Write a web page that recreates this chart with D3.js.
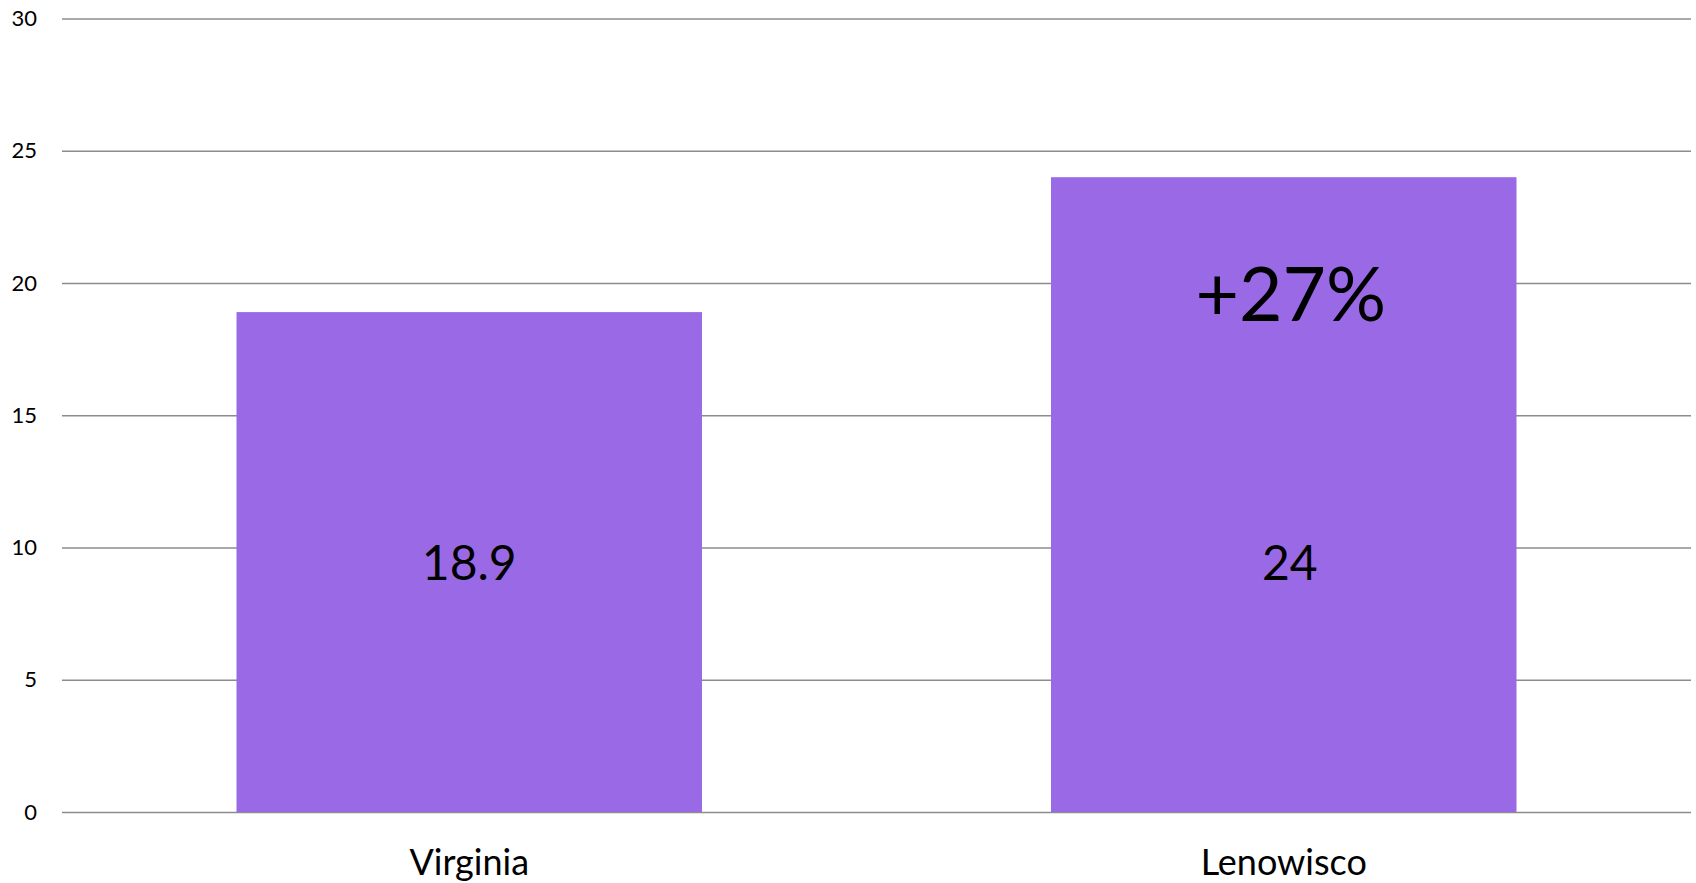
<!DOCTYPE html>
<html>
<head>
<meta charset="utf-8">
<script src="https://cdn.jsdelivr.net/npm/d3@7"></script>
<style>
  body { margin: 0; background: #fff; }
  text { font-family: Lato, "Open Sans", sans-serif; fill: #000; }
</style>
</head>
<body>
<div id="chart"></div>
<script>
// data
var categories = ["Virginia", "Lenowisco"];
var values = [18.9, 24];
var valueLabels = ["18.9", "24"];
var yTicks = [0, 5, 10, 15, 20, 25, 30];
var note = "+27%";

// dimensions
var margin = {top: 18.5, right: 5, bottom: 71, left: 62},
    width = 1696 - margin.left - margin.right,
    height = 883 - margin.top - margin.bottom;

var x = d3.scaleBand()
    .domain(categories)
    .range([0, width])
    .paddingInner(0.4285)
    .paddingOuter(0.21425);

var y = d3.scaleLinear()
    .domain([0, 30])
    .range([height, 0]);

var svg = d3.select("#chart").append("svg")
    .attr("width", 1696)
    .attr("height", 883)
  .append("g")
    .attr("transform", "translate(" + margin.left + "," + margin.top + ")");

// gridlines + y labels
var yAxis = svg.append("g")
    .call(d3.axisLeft(y).tickValues(yTicks).tickSize(-width).tickPadding(25));
yAxis.select(".domain").remove();
yAxis.selectAll("line").attr("stroke", "#8c8c8c").attr("stroke-width", 1.5);
yAxis.selectAll("text").style("font-size", "22px");

// bars
svg.selectAll(".bar")
    .data(values)
    .enter().append("rect")
    .attr("class", "bar")
    .attr("x", function(d, i) { return x(categories[i]); })
    .attr("width", x.bandwidth())
    .attr("y", function(d) { return y(d); })
    .attr("height", function(d) { return height - y(d); })
    .attr("fill", "#9a6ae6");

// value labels
svg.selectAll(".vlabel")
    .data(valueLabels)
    .enter().append("text")
    .attr("class", "vlabel")
    .attr("x", function(d, i) { return x(categories[i]) + x.bandwidth() / 2 + (i === 1 ? 6 : 0); })
    .attr("y", y(9.4))
    .attr("dy", "0.35em")
    .attr("text-anchor", "middle")
    .style("font-size", "48px")
    .text(function(d) { return d; });

// change note
svg.append("text")
    .attr("x", x(categories[1]) + x.bandwidth() / 2 + 7)
    .attr("y", y(18.9) + 9)
    .attr("text-anchor", "middle")
    .style("font-size", "75px")
    .text(note);

// category labels
var xAxis = svg.append("g")
    .attr("transform", "translate(0," + height + ")")
    .call(d3.axisBottom(x).tickSize(0));
xAxis.select(".domain").remove();
xAxis.selectAll("text")
    .attr("y", 63)
    .attr("dy", 0)
    .style("font-size", "36px");
</script>
</body>
</html>
